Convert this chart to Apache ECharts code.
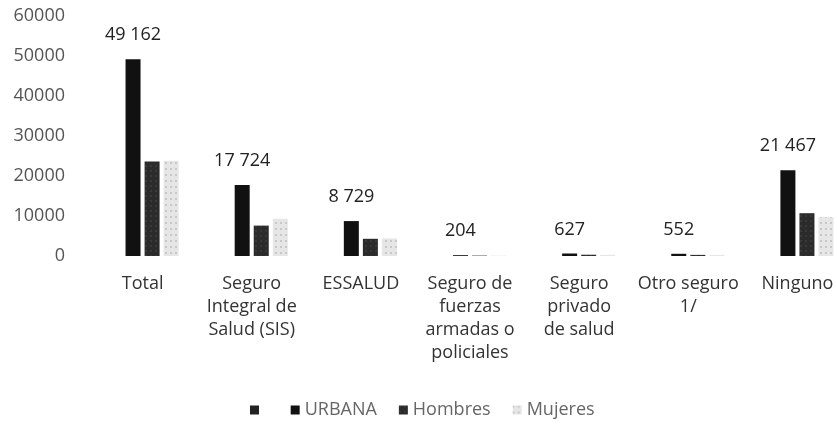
<!DOCTYPE html>
<html>
<head>
<meta charset="utf-8">
<script src="https://cdn.jsdelivr.net/npm/echarts@6/dist/echarts.min.js"></script>
<style>
  html, body { margin: 0; padding: 0; background: #fff; }
  #chart { width: 837px; height: 425px; }
</style>
</head>
<body>
<div id="chart"></div>
<script>
// categorias del eje x
const categories = [
  "Total",
  "Seguro\nIntegral de\nSalud (SIS)",
  "ESSALUD",
  "Seguro de\nfuerzas\narmadas o\npoliciales",
  "Seguro\nprivado\nde salud",
  "Otro seguro\n1/",
  "Ninguno"
];
// primera serie sin nombre (vacia en el grafico)
const blankValues = [0, 0, 0, 0, 0, 0, 0];
const urbana = [49162, 17724, 8729, 204, 627, 552, 21467];
const hombres = [23600, 7600, 4300, 100, 320, 280, 10700];
const mujeres = [23800, 9300, 4400, 104, 307, 272, 9700];
const yTicks = [0, 10000, 20000, 30000, 40000, 50000, 60000];

const font = "Open Sans";
const fmt = v => String(v).replace(/\B(?=(\d{3})+(?!\d))/g, " ");

let myChart = echarts.init(document.getElementById("chart"));
let option = {
  animation: false,
  textStyle: { fontFamily: font },
  grid: { left: 88, right: -15, top: 16, bottom: 169, outerBoundsMode: "none", containLabel: false },
  legend: {
    top: 396,
    left: 245,
    itemWidth: 9,
    itemHeight: 9,
    itemGap: 22,
    icon: "rect",
    textStyle: { color: "#666", fontSize: 18, fontFamily: font },
    data: [" ", "URBANA", "Hombres", "Mujeres"]
  },
  xAxis: {
    type: "category",
    data: categories,
    axisLine: { show: false },
    axisTick: { show: false },
    axisLabel: {
      interval: 0,
      margin: 16,
      color: "#333",
      fontSize: 18,
      lineHeight: 23,
      fontFamily: font
    }
  },
  yAxis: {
    type: "value",
    min: yTicks[0],
    max: yTicks[yTicks.length - 1],
    interval: 10000,
    splitLine: { show: false },
    axisLine: { show: false },
    axisTick: { show: false },
    axisLabel: {
      color: "#555",
      fontSize: 18,
      margin: 23,
      fontFamily: font,
      formatter: v => String(v)
    }
  },
  series: [
    {
      name: " ",
      type: "bar",
      barWidth: 15,
      barGap: "27%",
      itemStyle: { color: "#222" },
      data: blankValues
    },
    {
      name: "URBANA",
      type: "bar",
      barWidth: 15,
      barGap: "27%",
      itemStyle: { color: "#111" },
      label: {
        show: true,
        position: "top",
        distance: 15,
        color: "#222",
        fontSize: 18,
        fontFamily: font,
        formatter: p => fmt(p.value)
      },
      data: urbana
    },
    {
      name: "Hombres",
      type: "bar",
      barWidth: 15,
      barGap: "27%",
      itemStyle: {
        color: "#2b2b2b",
        decal: { symbol: "rect", symbolSize: 0.5, color: "rgba(160,160,160,0.5)", dashArrayX: [2, 3], dashArrayY: [2, 3] }
      },
      data: hombres
    },
    {
      name: "Mujeres",
      type: "bar",
      barWidth: 15,
      barGap: "27%",
      itemStyle: {
        color: "#e6e6e6",
        decal: { symbol: "rect", symbolSize: 0.6, color: "rgba(70,70,70,0.6)", dashArrayX: [2, 3], dashArrayY: [2, 4] }
      },
      data: mujeres
    }
  ]
};
myChart.setOption(option);
</script>
</body>
</html>
